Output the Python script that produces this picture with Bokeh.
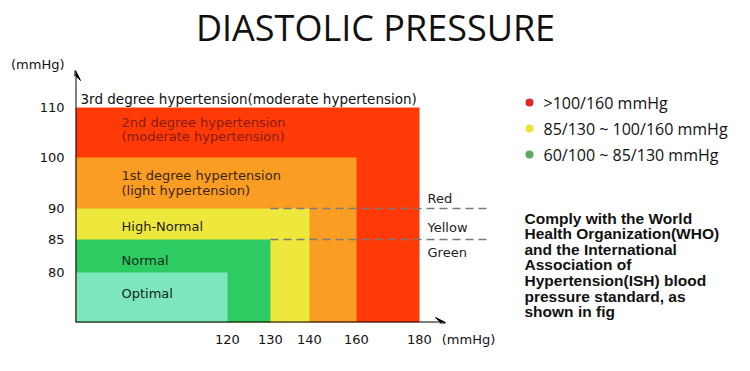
import numpy as np
from bokeh.plotting import figure
from bokeh.models import Range1d, FixedTicker, Arrow, VeeHead, ColumnDataSource
from bokeh.core.properties import value
from bokeh.embed import file_html
from bokeh.resources import INLINE

# ---------------- data ----------------
title_text = "DIASTOLIC PRESSURE"
zone_labels = ["2nd degree hypertension\n(moderate hypertension)",
               "1st degree hypertension\n(light hypertension)",
               "High-Normal", "Normal", "Optimal"]
zone_sys_max = [180, 160, 140, 130, 120]      # systolic upper bound (x, mmHg)
zone_dia_max = [110, 100, 90, 85, 80]         # diastolic upper bound (y, mmHg)
zone_dia_min = [100, 90, 85, 80, 60]          # lower edge of each labelled band
zone_colors = ["#FF3A06", "#FB9D22", "#EEE73C", "#2DCB62", "#7EE6BC"]
zone_text_colors = ["#8A1C0C", "#3A260A", "#1E1E14", "#10301C", "#10281E"]
top_label = "3rd degree hypertension(moderate hypertension)"
origin_sys, origin_dia = 100, 60
sys_ticks = [120, 130, 140, 160, 180]
dia_ticks = [80, 85, 90, 100, 110]
unit_label = "(mmHg)"
band_names = ["Red", "Yellow", "Green"]
band_limits = [90, 85]
legend_labels = [">100/160 mmHg", "85/130 ~ 100/160 mmHg", "60/100 ~  85/130 mmHg"]
legend_colors = ["#E3262B", "#F0E03C", "#5BAA5E"]
note_lines = ["Comply with the World", "Health Organization(WHO)", "and the International",
              "Association of", "Hypertension(ISH) blood", "pressure standard, as", "shown in fig"]

# ---- schematic (non-linear) scale of the reference: value -> axis position ----
SYS_ANCHOR = [100, 120, 130, 140, 160, 180]
SYS_POS = [0, 152, 195, 234, 281, 344]
DIA_ANCHOR = [60, 80, 85, 90, 100, 110]
DIA_POS = [0, 50, 83, 114, 165, 215]

def sx(v):
    return np.interp(v, SYS_ANCHOR, SYS_POS)

def dy(v):
    return np.interp(v, DIA_ANCHOR, DIA_POS)

W, H = 734, 355
p = figure(width=W, height=H, output_backend="svg", toolbar_location=None,
           title=None, min_border_left=75, min_border_right=0,
           min_border_top=0, min_border_bottom=33,
           x_range=Range1d(0, 659), y_range=Range1d(0, 322))
p.outline_line_color = None
p.grid.visible = False
p.background_fill_color = "white"

# zones (largest first)
zsrc = ColumnDataSource(dict(
    left=[sx(origin_sys)] * len(zone_sys_max),
    bottom=[dy(origin_dia)] * len(zone_sys_max),
    right=[sx(v) for v in zone_sys_max],
    top=[dy(v) for v in zone_dia_max],
    color=zone_colors))
p.quad(left="left", right="right", bottom="bottom", top="top", fill_color="color",
       line_color=None, source=zsrc)

# zone labels
lsrc = ColumnDataSource(dict(
    x=[46] * len(zone_labels),
    y=[(dy(a) + dy(b)) / 2 + o for a, b, o in zip(zone_dia_min, zone_dia_max, [3, 0, -2, -4, 4])],
    text=zone_labels, color=zone_text_colors))
p.text(x="x", y="y", text="text", text_color="color", source=lsrc,
       text_font=value("DejaVu Sans"), text_font_size="13px",
       text_baseline="middle", text_align="left", text_line_height=0.95)

p.text(x=[5], y=[dy(110) + 9], text=[top_label], text_font=value("DejaVu Sans"),
       text_font_size="13.5px", text_baseline="middle", text_color="#111111")

# dashed separators and band names
p.segment(x0=[sx(130)] * 2, x1=[412] * 2, y0=[dy(v) for v in band_limits],
          y1=[dy(v) for v in band_limits], line_color="#7a7a7a", line_width=1.3,
          line_dash="8 5")
p.text(x=[352] * 3, y=[dy(90) + 10, (dy(90) + dy(85)) / 2 - 3, dy(85) - 13], text=band_names,
       text_font=value("DejaVu Sans"), text_font_size="13px", text_baseline="middle",
       text_color="#222222")

# axes arrows
head = dict(size=10, fill_color="black", line_color="black")
p.add_layout(Arrow(end=VeeHead(**head), x_start=0, y_start=0, x_end=0, y_end=252,
                   line_width=2, line_color="black"))
p.add_layout(Arrow(end=VeeHead(**head), x_start=0, y_start=0, x_end=370, y_end=0,
                   line_width=2, line_color="black"))

# axes (tick labels)
xt = [float(sx(v)) for v in sys_ticks] + [393.0]
p.xaxis.ticker = FixedTicker(ticks=xt)
p.xaxis.major_label_overrides = {t: str(v) for t, v in zip(xt, sys_ticks + [unit_label])}
yt = [float(dy(v)) for v in dia_ticks] + [258.0]
p.yaxis.ticker = FixedTicker(ticks=yt)
p.yaxis.major_label_overrides = {t: str(v) for t, v in zip(yt, dia_ticks + [unit_label])}
for ax in (p.xaxis[0], p.yaxis[0]):
    ax.axis_line_color = None
    ax.major_tick_line_color = None
    ax.minor_tick_line_color = None
    ax.major_tick_out = 0
    ax.major_tick_in = 0
    ax.major_label_text_font = "DejaVu Sans"
    ax.major_label_text_font_size = "13px"
    ax.major_label_text_color = "#111111"
p.xaxis.major_label_standoff = 9
p.yaxis.major_label_standoff = 11

# title
p.text(x=[300], y=[295], text=[title_text], text_font=value("Open Sans"),
       text_font_size="36px", text_align="center", text_baseline="middle",
       text_color="#111111")

# legend on the right
ly = [220, 194, 168]
p.scatter(x=[454] * 3, y=ly, size=8, fill_color=legend_colors, line_color=None)
p.text(x=[468] * 3, y=ly, text=legend_labels, text_font=value("Open Sans"),
       text_font_size="16px", text_baseline="middle", text_color="#111111")

# note
p.text(x=[449], y=[113], text=["\n".join(note_lines)], text_font=value("Liberation Sans"),
       text_font_size="15.5px", text_font_style="bold", text_baseline="top",
       text_line_height=0.92, text_color="#111111")

open("out.html", "w").write(file_html(p, INLINE))
